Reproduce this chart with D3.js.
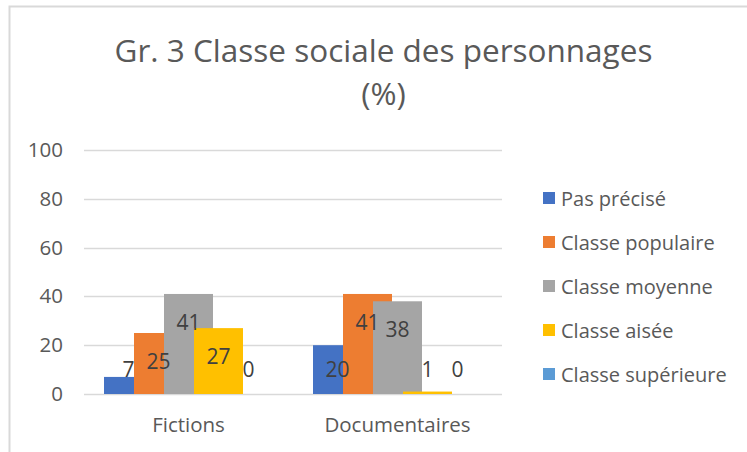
<!DOCTYPE html>
<html>
<head>
<meta charset="utf-8">
<script src="https://cdn.jsdelivr.net/npm/d3@7"></script>
<style>
  html, body { margin: 0; padding: 0; background: #fff; }
  svg { display: block; }
  text { font-family: "Open Sans", "Lato", sans-serif; }
</style>
</head>
<body>
<svg id="chart" width="747" height="452"></svg>
<script>
const categories = ["Fictions", "Documentaires"];
const seriesNames = ["Pas précisé", "Classe populaire", "Classe moyenne", "Classe aisée", "Classe supérieure"];
const seriesColors = ["#4472C4", "#ED7D31", "#A5A5A5", "#FFC000", "#5B9BD5"];
const fictionsValues = [7, 25, 41, 27, 0];
const documentairesValues = [20, 41, 38, 1, 0];
const yTicks = [0, 20, 40, 60, 80, 100];
const titleLines = ["Gr. 3 Classe sociale des personnages", "(%)"];

const valuesByCategory = [fictionsValues, documentairesValues];

const svg = d3.select("#chart");

// chart border
svg.append("path")
  .attr("d", "M9.5,452 V6.5 H747")
  .attr("fill", "none")
  .attr("stroke", "#D9D9D9")
  .attr("stroke-width", 2);

// title
svg.append("text")
  .attr("x", 383.5).attr("y", 62)
  .attr("text-anchor", "middle")
  .attr("font-size", 31.5)
  .attr("fill", "#595959")
  .text(titleLines[0]);
svg.append("text")
  .attr("x", 383.5).attr("y", 105)
  .attr("text-anchor", "middle")
  .attr("font-size", 31.5)
  .attr("fill", "#595959")
  .text(titleLines[1]);

const y = d3.scaleLinear().domain([0, 100]).range([394, 150]);
const x0 = d3.scaleBand().domain(categories).range([84, 502]).padding(0);
const x1 = d3.scaleBand().domain(seriesNames).range([-84.5, 65.5]).paddingInner(0);
const barWidth = 49;

// gridlines
svg.append("g")
  .selectAll("line")
  .data(yTicks)
  .join("line")
  .attr("x1", 84).attr("x2", 502)
  .attr("y1", d => Math.round(y(d)) + 0.5)
  .attr("y2", d => Math.round(y(d)) + 0.5)
  .attr("stroke", "#D9D9D9")
  .attr("stroke-width", 1.5);

// y axis labels
const yAxis = d3.axisLeft(y).tickValues(yTicks).tickSize(0).tickPadding(0);
const yg = svg.append("g").attr("transform", "translate(63,0)").call(yAxis);
yg.select(".domain").remove();
yg.selectAll("text")
  .attr("font-size", 20.5)
  .attr("font-family", "'Open Sans', sans-serif")
  .attr("fill", "#595959");

// x axis labels
const xAxis = d3.axisBottom(x0).tickSize(0).tickPadding(0);
const xg = svg.append("g").attr("transform", "translate(0,417)").call(xAxis);
xg.select(".domain").remove();
xg.selectAll("text")
  .attr("font-size", 20.5)
  .attr("font-family", "'Open Sans', sans-serif")
  .attr("fill", "#595959");

// bars
categories.forEach((cat, ci) => {
  const center = x0(cat) + x0.bandwidth() / 2;
  const g = svg.append("g");
  const vals = valuesByCategory[ci];
  g.selectAll("rect")
    .data(seriesNames.map((s, si) => ({ s, si, v: vals[si] })))
    .join("rect")
    .attr("x", d => center + x1(d.s))
    .attr("y", d => y(d.v))
    .attr("width", barWidth)
    .attr("height", d => Math.max(y(0) - y(d.v), d.v > 0 ? 2 : 0))
    .attr("fill", d => seriesColors[d.si]);
  g.selectAll("text")
    .data(seriesNames.map((s, si) => ({ s, si, v: vals[si] })))
    .join("text")
    .attr("x", d => center + x1(d.s) + barWidth / 2)
    .attr("y", d => Math.min(y(d.v) + 28, y(0) - 25) + 8)
    .attr("text-anchor", "middle")
    .attr("font-size", 21)
    .attr("fill", "#404040")
    .text(d => d.v);
});

// legend
const legend = svg.append("g");
seriesNames.forEach((s, i) => {
  const ly = 198 + i * 44;
  legend.append("rect")
    .attr("x", 543).attr("y", ly - 6)
    .attr("width", 12).attr("height", 12)
    .attr("fill", seriesColors[i]);
  legend.append("text")
    .attr("x", 561).attr("y", ly + 7.5)
    .attr("font-size", 20)
    .attr("fill", "#595959")
    .text(s);
});
</script>
</body>
</html>
